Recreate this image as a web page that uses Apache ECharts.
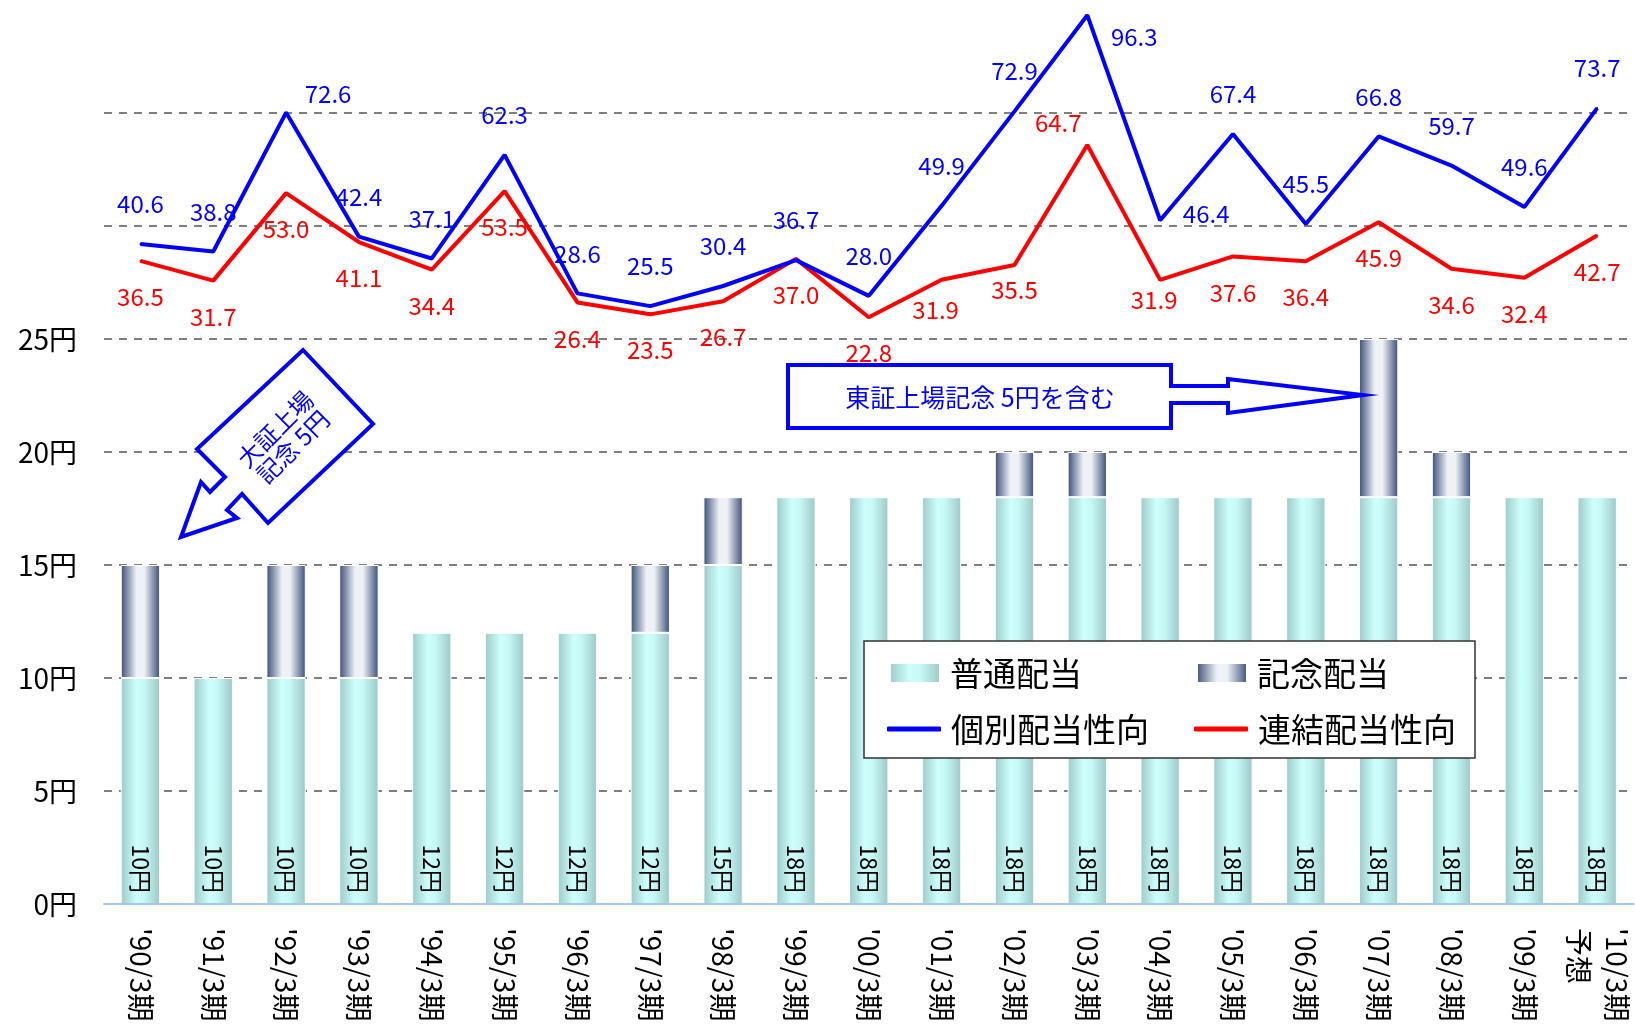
<!DOCTYPE html>
<html><head><meta charset="utf-8">
<script src="https://cdn.jsdelivr.net/npm/echarts@6.0.0/dist/echarts.min.js"></script>
<style>html,body{margin:0;padding:0;background:#fff}#chart{width:1635px;height:1032px}</style>
</head><body><div id="chart"></div>
<script>
const categories = ["'90/3期","'91/3期","'92/3期","'93/3期","'94/3期","'95/3期","'96/3期","'97/3期","'98/3期","'99/3期","'00/3期","'01/3期","'02/3期","'03/3期","'04/3期","'05/3期","'06/3期","'07/3期","'08/3期","'09/3期","'10/3期\n予想"];
const regularDividend = [10,10,10,10,12,12,12,12,15,18,18,18,18,18,18,18,18,18,18,18,18];
const commemorativeDividend = [5,0,5,5,0,0,0,3,3,0,0,0,2,2,0,0,0,7,2,0,0];
const payoutNonConsolidated = [40.6,38.8,72.6,42.4,37.1,62.3,28.6,25.5,30.4,36.7,28.0,49.9,72.9,96.3,46.4,67.4,45.5,66.8,59.7,49.6,73.7];
const payoutConsolidated = [36.5,31.7,53.0,41.1,34.4,53.5,26.4,23.5,26.7,37.0,22.8,31.9,35.5,64.7,31.9,37.6,36.4,45.9,34.6,32.4,42.7];
const yTickValues = [0,5,10,15,20,25];
const seriesNames = ['普通配当','記念配当','個別配当性向','連結配当性向'];
const noteOsaka = '大証上場\n記念 5円';
const noteTokyo = '東証上場記念 5円を含む';

const FONT = '"Noto Sans CJK JP", "Noto Sans", sans-serif';
const BLUE = '#0000ff', RED = '#ff0000';
const blueShift = {2:[42,-19], 13:[47,22], 14:[46,-6]};
const redShift = {11:[-6,30], 12:[0,25], 13:[-29,-22], 14:[-6,20]};

const regularGrad = {type:'linear',x:0,y:0,x2:1,y2:0,colorStops:[
  {offset:0,color:'#9dcac7'},{offset:0.4,color:'#cdfffd'},{offset:0.6,color:'#c6f8f5'},{offset:1,color:'#9cc8c6'}]};
const commGrad = {type:'linear',x:0,y:0,x2:1,y2:0,colorStops:[
  {offset:0,color:'#394d78'},{offset:0.4,color:'#eef2f6'},{offset:0.6,color:'#eef2f6'},{offset:1,color:'#394d78'}]};

const chart = echarts.init(document.getElementById('chart'), null, {renderer:'canvas'});

function legendBox(name, left, top, w, h, icon) {
  return {
    data:[name], left:left, top:top, padding:0, itemWidth:w, itemHeight:h,
    icon: icon, selectedMode:false, z:4,
    textStyle:{fontSize:33, fontFamily:FONT, color:'#000', lineHeight:36, padding:[0,0,0,5]}
  };
}

const option = {
  animation:false,
  backgroundColor:'#ffffff',
  textStyle:{fontFamily:FONT},
  grid:{left:104, right:-5, top:-3, bottom:128, containLabel:false},
  legend:[
    legendBox(seriesNames[0], 889, 655, 50, 20, 'rect'),
    legendBox(seriesNames[1], 1196, 655, 50, 20, 'rect'),
    legendBox(seriesNames[2], 887, 711, 54, 5, 'roundRect'),
    legendBox(seriesNames[3], 1194, 711, 54, 5, 'roundRect')
  ],
  xAxis:{
    type:'category', data:categories, z:3,
    axisLine:{lineStyle:{color:'#a0c8f0', width:2}},
    axisTick:{show:false},
    axisLabel:{interval:0, rotate:-90, fontSize:28, margin:24, color:'#000', fontFamily:FONT, lineHeight:38}
  },
  yAxis:[
    {type:'value', min:0, max:40, interval:5,
     axisLine:{show:false}, axisTick:{show:false},
     axisLabel:{fontSize:28, color:'#000', margin:27, fontFamily:FONT,
       formatter:v => yTickValues.includes(v) ? v + '円' : ''},
     splitLine:{show:true, showMaxLine:false, showMinLine:false,
       lineStyle:{color:'#555', type:[8,7], width:1.5}}},
    {type:'value', min:-120, max:100, show:false, splitLine:{show:false}}
  ],
  series:[
    {name:seriesNames[0], type:'bar', stack:'div', barWidth:'54%', yAxisIndex:0,
     data:regularDividend,
     itemStyle:{color:regularGrad, borderColor:'#ffffff', borderWidth:1},
     label:{show:true, position:'insideBottom', rotate:-90, align:'right', verticalAlign:'middle',
       distance:11, fontSize:23, color:'#000', fontFamily:FONT, textBorderWidth:0,
       formatter:p => p.value + '円'}},
    {name:seriesNames[1], type:'bar', stack:'div', barWidth:'54%', yAxisIndex:0,
     data:commemorativeDividend.map(v => v === 0 ? '-' : v),
     itemStyle:{color:commGrad, borderColor:'#ffffff', borderWidth:1}},
    {name:seriesNames[2], type:'line', yAxisIndex:1, color:BLUE,
     symbol:'circle', symbolSize:2, z:5,
     lineStyle:{color:BLUE, width:4}, itemStyle:{color:BLUE},
     data:payoutNonConsolidated.map((v,i) => ({value:v, label:{offset: blueShift[i] || [0,-40]}})),
     label:{show:true, position:'inside', color:BLUE, fontSize:24, fontFamily:FONT, textBorderWidth:0,
       formatter:p => Number(p.value).toFixed(1)}},
    {name:seriesNames[3], type:'line', yAxisIndex:1, color:RED,
     symbol:'circle', symbolSize:2, z:4,
     lineStyle:{color:RED, width:4}, itemStyle:{color:RED},
     data:payoutConsolidated.map((v,i) => ({value:v, label:{offset: redShift[i] || [0,36]}})),
     label:{show:true, position:'inside', color:RED, fontSize:24, fontFamily:FONT, textBorderWidth:0,
       formatter:p => Number(p.value).toFixed(1)}}
  ],
  graphic:{elements:[
    {type:'rect', z:3, shape:{x:864, y:641, width:611, height:117},
     style:{fill:'#ffffff', stroke:'#333333', lineWidth:1.5}},
    {type:'polygon', z:5,
     shape:{points:[[303,350],[373,424],[268,523],[242,494],[227,510],[237,518],[181,537],[201,482],[210,492],[225,477],[197,449]]},
     style:{fill:'#ffffff', stroke:BLUE, lineWidth:4, lineJoin:'miter'}},
    {type:'text', z:6, x:284, y:438, rotation:Math.PI/4,
     style:{text:noteOsaka, fill:BLUE, fontSize:24, fontFamily:FONT, align:'center', verticalAlign:'middle', lineHeight:25}},
    {type:'polygon', z:5,
     shape:{points:[[788,365],[1171,365],[1171,386],[1228,386],[1228,379],[1363,395],[1228,413],[1228,403],[1171,403],[1171,428],[788,428]]},
     style:{fill:'#ffffff', stroke:BLUE, lineWidth:4, lineJoin:'miter'}},
    {type:'text', z:6, x:980, y:397,
     style:{text:noteTokyo, fill:BLUE, fontSize:25, fontFamily:FONT, align:'center', verticalAlign:'middle'}}
  ]}
};
chart.setOption(option);
</script></body></html>
